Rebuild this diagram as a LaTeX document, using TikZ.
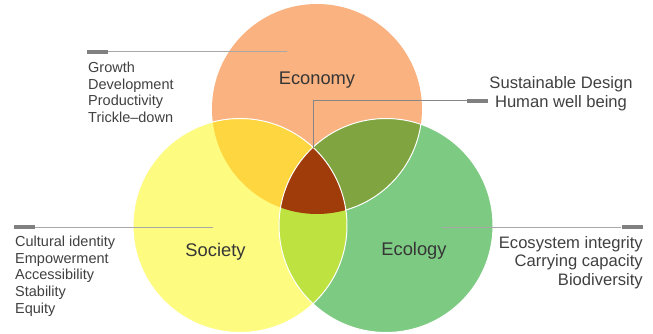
\documentclass[tikz,border=0pt]{standalone}
\usepackage{fontspec}
\setmainfont{Liberation Sans}

\definecolor{econfill}{HTML}{FAB280}
\definecolor{socfill}{HTML}{FDFB80}
\definecolor{ecofill}{HTML}{7DCA82}
\definecolor{econsoc}{HTML}{FDD640}
\definecolor{econeco}{HTML}{80A540}
\definecolor{soceco}{HTML}{BEE240}
\definecolor{corefill}{HTML}{A03C0A}
\definecolor{leadgray}{HTML}{A8A8A8}
\definecolor{tabgray}{HTML}{808080}
\definecolor{ink}{HTML}{404040}

\def\econdisc{(317,109) circle (105pt)}
\def\socdisc{(240,225.5) circle (107pt)}
\def\ecodisc{(386,225.5) circle (107pt)}

\begin{document}
\begin{tikzpicture}[x=1pt, y=-1pt,
	lead/.style={draw=leadgray, line width=1pt},
	tabbar/.style={fill=tabgray, minimum width=21pt, minimum height=4pt, inner sep=0pt},
	title/.style={text=ink!85!black, font=\fontsize{18.3}{20}\selectfont},
	small list/.style={text=ink, font=\fontsize{14.5}{16.6}\selectfont, inner sep=0pt},
	large list/.style={text=ink, font=\fontsize{16.6}{18.4}\selectfont, inner sep=0pt}]
	\useasboundingbox (0,0) rectangle (653,334);

	% the three discs and their overlaps
	\fill[econfill] \econdisc;
	\fill[socfill] \socdisc;
	\fill[ecofill] \ecodisc;
	\begin{scope}
		\clip \econdisc;
		\fill[econsoc] \socdisc;
		\fill[econeco] \ecodisc;
	\end{scope}
	\begin{scope}
		\clip \socdisc;
		\fill[soceco] \ecodisc;
		\clip \econdisc;
		\fill[corefill] \ecodisc;
	\end{scope}
	\draw[white, line width=1pt] \socdisc \ecodisc;
	\begin{scope}
		\clip \ecodisc;
		\clip (345,0) rectangle (653,334);
		\draw[white, line width=1pt] \econdisc;
	\end{scope}

	\node[title, anchor=base] (econ-title) at (317,84.3) {Economy};
	\node[title, anchor=base] (soc-title) at (215.5,256.7) {Society};
	\node[title, anchor=base] (eco-title) at (414,255.5) {Ecology};

	% leaders out to the lists
	\coordinate (econ-pin) at (287,52);
	\coordinate (core-pin) at (313,148);
	\coordinate (soc-pin) at (213,227);
	\coordinate (eco-pin) at (442,227);
	\node[tabbar] (econ-tab) at (97.5,52) {};
	\node[tabbar] (core-tab) at (477.5,101) {};
	\node[tabbar] (soc-tab) at (24,227) {};
	\node[tabbar] (eco-tab) at (632,227) {};
	\draw[lead] (econ-pin) -- (econ-tab);
	\draw[lead, draw=leadgray!80!black] (core-pin) |- (core-tab);
	\draw[lead] (soc-pin) -- (soc-tab);
	\draw[lead] (eco-pin) -- (eco-tab);

	% lists sit on the baseline of their last line
	\node[small list, align=left, anchor=base west] (econ-list) at (88,122.5)
		{Growth\\Development\\Productivity\\Trickle--down};
	\node[large list, align=center, anchor=base] (core-list) at (561,107.3)
		{Sustainable Design\\Human well being};
	\node[small list, align=left, anchor=base west] (soc-list) at (15,313)
		{Cultural identity\\Empowerment\\Accessibility\\Stability\\Equity};
	\node[large list, align=right, anchor=base east] (eco-list) at (643,285)
		{Ecosystem integrity\\Carrying capacity\\Biodiversity};
\end{tikzpicture}
\end{document}
